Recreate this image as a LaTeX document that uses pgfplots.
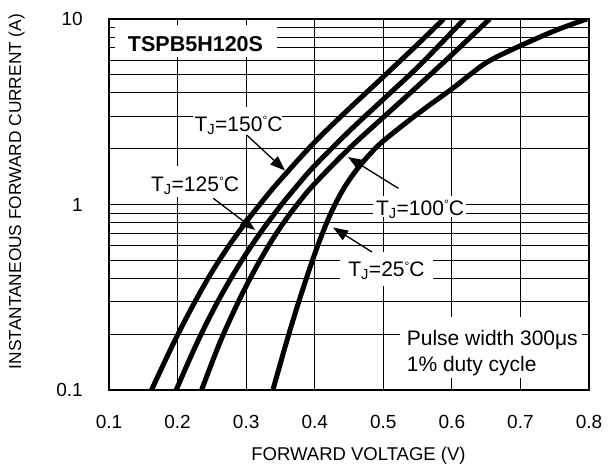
\documentclass[border=0pt]{standalone}
\usepackage{pgfplots}
\pgfplotsset{compat=1.18}
\usepackage{fontspec}
\setmainfont{Liberation Sans}
\usetikzlibrary{arrows.meta}

\newcommand\tj[1]{T\textsubscript{J}=#1\raisebox{6.5pt}{\fontsize{12}{12}\selectfont °}C}

\begin{document}
\begin{tikzpicture}
\begin{axis}[
  name=ax, scale only axis, width=480pt, height=371pt,
  xmin=0.1, xmax=0.8, ymode=log, ymin=0.1, ymax=10,
  xtick={0.1,0.2,0.3,0.4,0.5,0.6,0.7,0.8},
  xticklabels={0.1,0.2,0.3,0.4,0.5,0.6,0.7,0.8},
  ytick={0.1,1,10}, yticklabels={0.1,1,10},
  minor ytick={0.2,0.3,0.4,0.5,0.6,0.7,0.8,0.9,2,3,4,5,6,7,8,9},
  grid=both,
  major grid style={black, line width=0.8pt},
  minor grid style={black, line width=0.8pt},
  major tick length=0pt, minor tick length=0pt,
  axis line style={black, line width=1.5pt},
  tick label style={font=\fontsize{19}{19}\selectfont, inner sep=0pt},
  xticklabel style={anchor=base, yshift=-38.8pt},
  yticklabel style={anchor=east, xshift=-26pt},
  xlabel={FORWARD VOLTAGE (V)},
  xlabel style={at={(axis description cs:0.5198,-0.1779)}, anchor=center,
    font=\fontsize{18.5}{18.5}\selectfont, inner sep=0pt},
  ylabel={INSTANTANEOUS FORWARD CURRENT (A)},
  ylabel style={at={(axis description cs:-0.1923,0.535)}, anchor=center,
    font=\fontsize{17.3}{17.3}\selectfont, inner sep=0pt},
  curve/.style={black, line width=5pt, smooth, tension=0.6, line join=round},
]
% label backgrounds (grid is interrupted behind text)
\fill[white] (rel axis cs:0.0125,0.8976) rectangle (rel axis cs:0.35,0.9838);
\fill[white] (rel axis cs:0.175,0.6873) rectangle (rel axis cs:0.3604,0.7628);
\fill[white] (rel axis cs:0.08125,0.5202) rectangle (rel axis cs:0.279,0.6038);
\fill[white] (rel axis cs:0.55,0.4663) rectangle (rel axis cs:0.7438,0.5229);
\fill[white] (rel axis cs:0.48125,0.2803) rectangle (rel axis cs:0.675,0.372);
\fill[white] (rel axis cs:0.60625,0.0323) rectangle (rel axis cs:0.98542,0.1968);

% TJ = 150 C
\addplot[curve] coordinates {
  (0.162,0.1) (0.18,0.139) (0.2,0.198) (0.225,0.2975) (0.25,0.4325) (0.275,0.6005)
  (0.3,0.805) (0.325,1.056) (0.35,1.36) (0.4,2.17) (0.45,3.28) (0.5,4.88)
  (0.55,7.30) (0.588,10)};
% TJ = 125 C
\addplot[curve] coordinates {
  (0.198,0.1) (0.225,0.1687) (0.25,0.261) (0.275,0.384) (0.3,0.543) (0.325,0.740)
  (0.35,0.982) (0.375,1.272) (0.4,1.62) (0.45,2.48) (0.5,3.69) (0.55,5.49)
  (0.6,8.5) (0.6185,10)};
% TJ = 100 C
\addplot[curve] coordinates {
  (0.235,0.1) (0.26,0.174) (0.28,0.256) (0.3,0.363) (0.325,0.537) (0.35,0.754)
  (0.375,1.006) (0.4,1.296) (0.45,2.0) (0.5,2.95) (0.55,4.34) (0.6,6.42)
  (0.655,10)};
% TJ = 25 C
\addplot[curve] coordinates {
  (0.339,0.1) (0.36,0.1875) (0.38,0.326) (0.4,0.541) (0.42,0.838) (0.44,1.18)
  (0.46,1.52) (0.48,1.86) (0.5,2.20) (0.55,3.08) (0.6,4.2) (0.63,5.13)
  (0.655,5.96) (0.7,7.18) (0.753,8.73) (0.797,10)};

% texts
\node[font=\fontsize{21.5}{21.5}\selectfont\bfseries, inner sep=0pt]
  at (rel axis cs:0.1802,0.9326) {TSPB5H120S};
\node[font=\fontsize{21}{21}\selectfont, inner sep=0pt, anchor=base]
  at (rel axis cs:0.2698,0.6981) {\tj{150}};
\node[font=\fontsize{21}{21}\selectfont, inner sep=0pt, anchor=base]
  at (rel axis cs:0.1792,0.5345) {\tj{125}};
\node[font=\fontsize{21}{21}\selectfont, inner sep=0pt, anchor=base]
  at (rel axis cs:0.6479,0.4717) {\tj{100}};
\node[font=\fontsize{21}{21}\selectfont, inner sep=0pt, anchor=base]
  at (rel axis cs:0.578,0.3054) {\tj{25}};
\node[font=\fontsize{21}{21}\selectfont, inner sep=0pt, anchor=base west]
  at (rel axis cs:0.6202,0.1213) {Pulse width 300μs};
\node[font=\fontsize{21}{21}\selectfont, inner sep=0pt, anchor=base west]
  at (rel axis cs:0.6202,0.0512) {1\% duty cycle};

% arrows
\draw[line width=1.3pt, -{Triangle[length=15pt,width=11pt]}]
  (rel axis cs:0.2869,0.6873) -- (rel axis cs:0.3667,0.5916);
\draw[line width=1.3pt, -{Triangle[length=15pt,width=11pt]}]
  (rel axis cs:0.2173,0.5167) -- (rel axis cs:0.3042,0.4313);
\draw[line width=1.3pt, -{Triangle[length=15pt,width=11pt]}]
  (rel axis cs:0.6027,0.5437) -- (rel axis cs:0.4979,0.628);
\draw[line width=1.3pt, -{Triangle[length=15pt,width=11pt]}]
  (rel axis cs:0.5479,0.372) -- (rel axis cs:0.4667,0.438);
\end{axis}
\pgfresetboundingbox
\path ([shift={(-109pt,-84pt)}]ax.south west) rectangle ([shift={(23pt,19pt)}]ax.north east);
\end{tikzpicture}
\end{document}
